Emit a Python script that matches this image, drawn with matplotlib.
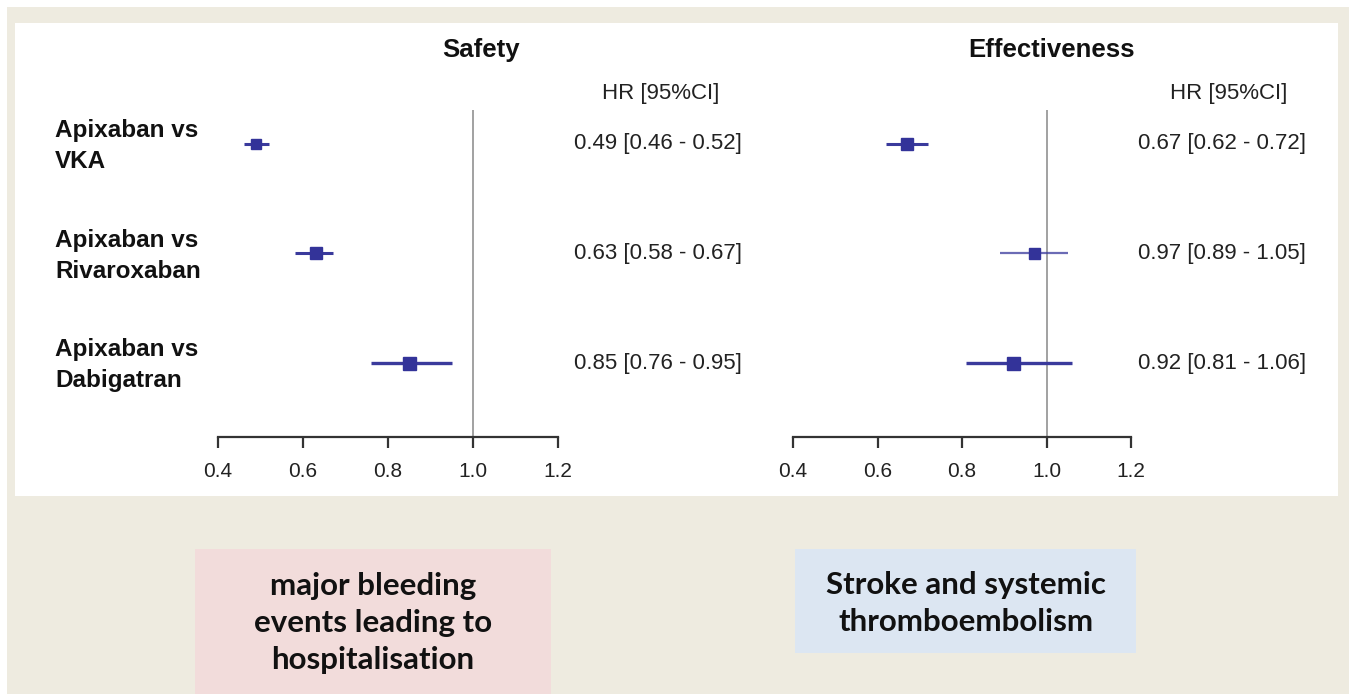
import matplotlib
matplotlib.use("Agg")
import matplotlib.pyplot as plt
from matplotlib.patches import Rectangle

W, H = 1349, 694

comparisons = ["Apixaban vs\nVKA", "Apixaban vs\nRivaroxaban", "Apixaban vs\nDabigatran"]
panel_titles = ["Safety", "Effectiveness"]
outcomes = ["major bleeding\nevents leading to\nhospitalisation", "Stroke and systemic\nthromboembolism"]

safety_hr = [0.49, 0.63, 0.85]
safety_lo = [0.46, 0.58, 0.76]
safety_hi = [0.52, 0.67, 0.95]

effect_hr = [0.67, 0.97, 0.92]
effect_lo = [0.62, 0.89, 0.81]
effect_hi = [0.72, 1.05, 1.06]

xticks = [0.4, 0.6, 0.8, 1.0, 1.2]

plt.rcParams['font.family'] = ['Liberation Sans', 'DejaVu Sans']


def fx(px):
    return px / W


def fy(py):
    return 1 - py / H


fig = plt.figure(figsize=(W / 100, H / 100), dpi=100)
fig.patch.set_facecolor('white')

# beige frame + white panel
fig.patches.append(Rectangle((fx(7), 0), 1 - fx(7), fy(7), transform=fig.transFigure,
                             facecolor='#EEEBE0', edgecolor='none', zorder=-3))
fig.patches.append(Rectangle((fx(15), fy(496)), fx(1338) - fx(15), fy(23) - fy(496),
                             transform=fig.transFigure, facecolor='white', edgecolor='none', zorder=-2))

rows = [3, 2, 1]
row_px = [144, 254, 363]
marker_px = [[10, 12, 13], [12, 11, 13]]
line_w = [[2.2, 2.2, 2.4], [2.2, 1.6, 2.4]]
line_alpha = [[1, 1, 1], [1, 0.75, 1]]

panels = [
    (218, 558, safety_hr, safety_lo, safety_hi, 481, 661, 742),
    (793, 1131, effect_hr, effect_lo, effect_hi, 1051, 1229, 1306),
]

for k, (x0, x1, hr, lo, hi, title_x, head_x, val_x) in enumerate(panels):
    ax = fig.add_axes([fx(x0), fy(437), fx(x1) - fx(x0), fy(110) - fy(437)])
    ax.set_facecolor('none')
    ax.set_xlim(0.4, 1.2)
    ax.set_ylim(0.324, 3.31)
    ax.axvline(1.0, color='#9a9a9a', lw=1.3, zorder=1)
    for i in range(3):
        ax.plot([lo[i], hi[i]], [rows[i], rows[i]], color='#3a3a9c', lw=line_w[k][i],
                alpha=line_alpha[k][i], solid_capstyle='butt', zorder=2)
        ax.plot(hr[i], rows[i], marker='s', ms=marker_px[k][i] * 0.72, color='#333399',
                mec='#333399', zorder=3)
    for s in ['top', 'right', 'left']:
        ax.spines[s].set_visible(False)
    ax.spines['bottom'].set_linewidth(1.6)
    ax.spines['bottom'].set_color('#333333')
    ax.set_yticks([])
    ax.set_xticks(xticks)
    ax.set_xticklabels([f"{t:.1f}" for t in xticks], fontsize=15, color='#222222')
    ax.tick_params(axis='x', length=8, width=1.6, color='#333333', pad=10)

    fig.text(fx(title_x), fy(50), panel_titles[k], ha='center', va='center',
             fontsize=18.5, fontweight='bold', color='#111111')
    fig.text(fx(head_x), fy(94), "HR [95%CI]", ha='center', va='center',
             fontsize=16, color='#222222')
    for i in range(3):
        fig.text(fx(val_x), fy(row_px[i]), f"{hr[i]:.2f} [{lo[i]:.2f} - {hi[i]:.2f}]",
                 ha='right', va='center', fontsize=16, color='#222222')

for i in range(3):
    fig.text(fx(55), fy(row_px[i] + 2), comparisons[i], ha='left', va='center',
             fontsize=17.5, fontweight='bold', color='#111111', linespacing=1.4)

# outcome boxes
box_specs = [(195, 549, 551, 694, '#F2DCDB'), (795, 549, 1136, 653, '#DCE6F2')]
text_x = [373, 966]
for k, (bx0, by0, bx1, by1, col) in enumerate(box_specs):
    fig.patches.append(Rectangle((fx(bx0), fy(by1)), fx(bx1) - fx(bx0), fy(by0) - fy(by1),
                                 transform=fig.transFigure, facecolor=col, edgecolor='none', zorder=-1))
    n = outcomes[k].count("\n") + 1
    cy = 584 + (n - 1) * 39 / 2
    fig.text(fx(text_x[k]), fy(cy), outcomes[k], ha='center', va='center',
             fontsize=22.5, fontweight='bold', family=['Lato', 'DejaVu Sans'],
             color='#111111', linespacing=1.4, zorder=2)

fig.savefig("out.png", dpi=100)
